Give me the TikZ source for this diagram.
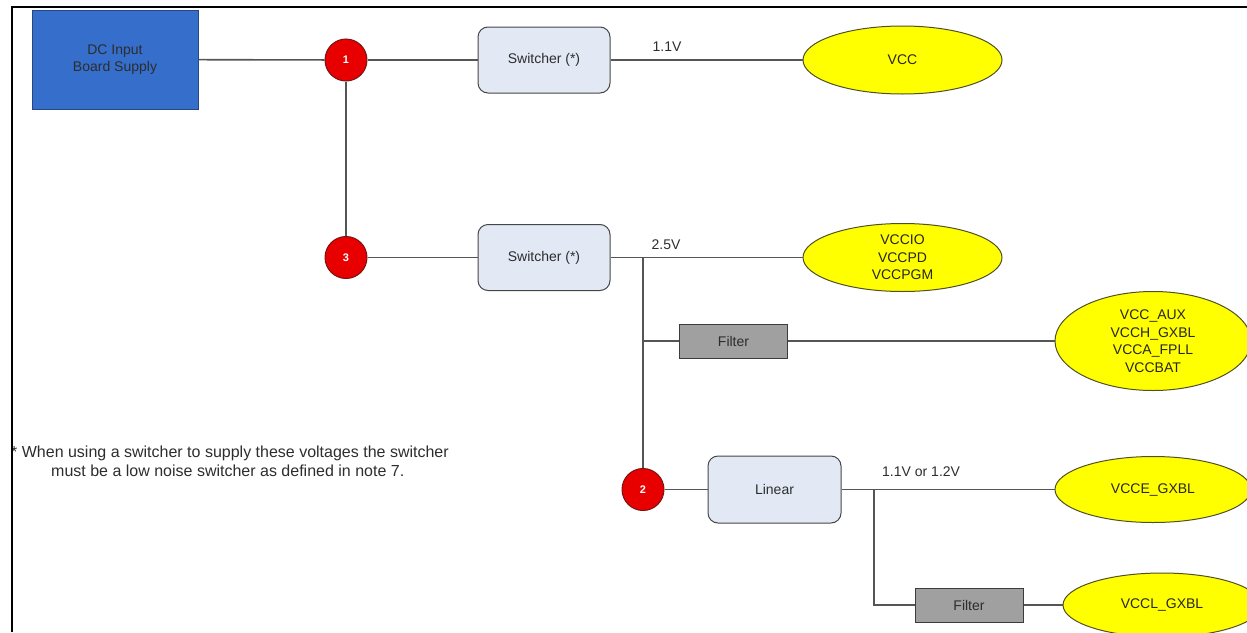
\documentclass[tikz,border=0pt]{standalone}
\usepackage{fontspec}
\setmainfont{Liberation Sans}
\usetikzlibrary{shapes.geometric}
\definecolor{dcblue}{RGB}{54,110,204}
\definecolor{dcborder}{RGB}{40,70,130}
\definecolor{wiregray}{RGB}{85,85,85}
\definecolor{swfill}{RGB}{226,233,245}
\definecolor{swborder}{RGB}{70,70,70}
\definecolor{filtfill}{RGB}{160,160,160}
\definecolor{filtborder}{RGB}{60,60,60}
\definecolor{railyellow}{RGB}{255,255,0}
\definecolor{railborder}{RGB}{80,80,40}
\definecolor{dotred}{RGB}{232,0,0}
\definecolor{dotborder}{RGB}{120,20,20}
\definecolor{txtgray}{RGB}{45,45,45}
\begin{document}
\begin{tikzpicture}[x=1pt,y=-1pt,
  wire/.style={draw=wiregray, line width=1.6pt},
  basefont/.style={font=\fontsize{14}{17.5}\selectfont},
  dcbox/.style={draw=dcborder, fill=dcblue, line width=1pt, minimum width=166pt, minimum height=99pt, inner sep=0pt, align=center, text=txtgray, basefont},
  switchbox/.style={draw=swborder, fill=swfill, line width=1pt, rounded corners=10pt, minimum width=132pt, minimum height=66pt, inner sep=0pt, text=txtgray, basefont},
  filterbox/.style={draw=filtborder, fill=filtfill, line width=1pt, minimum width=108pt, minimum height=34pt, inner sep=0pt, text=txtgray, basefont},
  railell/.style={ellipse, draw=railborder, fill=railyellow, line width=1pt, inner sep=0pt, align=center, text=black!85, basefont},
  numdot/.style={circle, draw=dotborder, fill=dotred, line width=1pt, minimum size=42pt, inner sep=0pt, text=white, font=\bfseries\fontsize{11}{13}\selectfont},
  vlabel/.style={inner sep=0pt, text=txtgray, basefont},
  notetext/.style={inner sep=0pt, align=left, text=txtgray, font=\fontsize{16}{19}\selectfont}
]
\useasboundingbox (0,0) rectangle (1247,632);
\clip (0,0) rectangle (1247,632);

% nodes
\node[dcbox] (dc) at (115,59.5) {DC Input\\Board Supply};
\node[numdot] (n1) at (346,60) {1};
\node[switchbox] (sw1) at (544,60) {Switcher (*)};
\node[railell, minimum width=199pt, minimum height=68pt] (vcc) at (902.5,60) {VCC};
\node[numdot] (n3) at (346,257.5) {3};
\node[switchbox] (sw2) at (544,257.5) {Switcher (*)};
\node[railell, minimum width=199pt, minimum height=68pt] (vccio) at (902.5,257.5) {VCCIO\\VCCPD\\VCCPGM};
\node[filterbox] (filt1) at (733.5,341) {Filter};
\node[railell, minimum width=196pt, minimum height=99pt] (aux) at (1153,341) {VCC\_AUX\\VCCH\_GXBL\\VCCA\_FPLL\\VCCBAT};
\node[numdot] (n2) at (643,489.5) {2};
\node[switchbox, minimum width=133pt, minimum height=67pt] (lin) at (774.5,489.5) {Linear};
\node[railell, minimum width=196pt, minimum height=66pt] (vcce) at (1153,489.5) {VCCE\_GXBL};
\node[filterbox] (filt2) at (969,605) {Filter};
\node[railell, minimum width=198pt, minimum height=64pt] (vccl) at (1162,605) {VCCL\_GXBL};

% junctions
\coordinate (j1) at (643,257.5);
\coordinate (j2) at (643,341);
\coordinate (j3) at (874,489.5);
\coordinate (j4) at (874,605);

% labels
\node[vlabel] (l11) at (667,47) {1.1V};
\node[vlabel] (l25) at (666,245) {2.5V};
\node[vlabel, anchor=west] (l1112) at (882,472) {1.1V or 1.2V};

% note
\node[notetext, anchor=north west] (note) at (11,446) {* When using a switcher to supply these voltages the switcher\\\hspace*{40pt}must be a low noise switcher as defined in note 7.};

% connectors
\draw[wire] (dc) -- (n1);
\draw[wire] (n1) -- (sw1);
\draw[wire] (sw1) -- (vcc);
\draw[wire] (n1) -- (n3);
\draw[wire] (n3) -- (sw2);
\draw[wire] (sw2) -- (vccio);
\draw[wire] (j1) -- (n2);
\draw[wire] (j2) -- (filt1);
\draw[wire] (filt1) -- (aux);
\draw[wire] (n2) -- (lin);
\draw[wire] (lin) -- (vcce);
\draw[wire] (j3) -- (j4) -- (filt2);
\draw[wire] (filt2) -- (vccl);

% frame
\draw[line width=2pt, black] (12,632) -- (12,7) -- (1247,7);
\end{tikzpicture}
\end{document}
